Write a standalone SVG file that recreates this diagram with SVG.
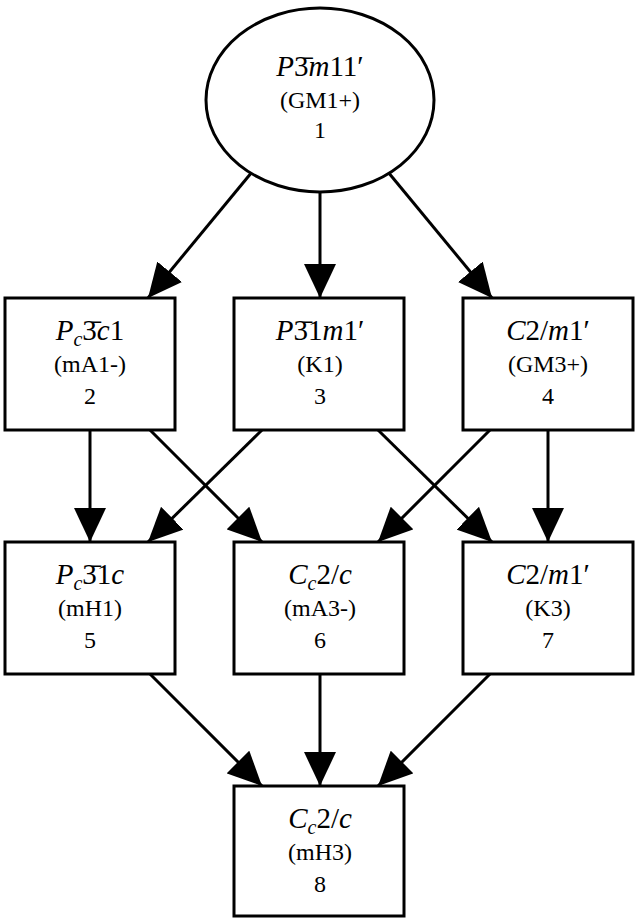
<svg xmlns="http://www.w3.org/2000/svg" width="640" height="918" viewBox="0 0 640 918">
<style>
.n{fill:#fff;stroke:#000;stroke-width:3}
.m{font-family:"Liberation Serif",serif;font-style:italic;font-size:29px;text-anchor:middle}
.m .u{font-style:normal}
.t{font-family:"Liberation Serif",serif;font-size:24px;text-anchor:middle}
.c line{stroke:#000;stroke-width:3;marker-end:url(#a)}
</style>
<defs><marker id="a" markerUnits="userSpaceOnUse" markerWidth="36" markerHeight="32" refX="34" refY="16" orient="auto"><path d="M0,0L34,16L0,32z"/></marker></defs>
<rect width="640" height="918" fill="#fff"/>
<g class="c">
<line x1="252" y1="172" x2="148" y2="298"/>
<line x1="320" y1="192" x2="320" y2="298"/>
<line x1="388" y1="172" x2="492" y2="298"/>
<line x1="90" y1="430" x2="90" y2="542"/>
<line x1="150" y1="430" x2="262" y2="542"/>
<line x1="262" y1="430" x2="148" y2="542"/>
<line x1="378" y1="430" x2="492" y2="542"/>
<line x1="490" y1="430" x2="378" y2="542"/>
<line x1="548" y1="430" x2="548" y2="542"/>
<line x1="150" y1="674" x2="262" y2="786"/>
<line x1="320" y1="674" x2="320" y2="786"/>
<line x1="490" y1="674" x2="378" y2="786"/>
</g>
<g id="n1"><ellipse class="n" cx="320" cy="100" rx="114" ry="92"/><text class="m" x="320" y="76">P<tspan class="u">3̄</tspan>m<tspan class="u">11′</tspan></text><text class="t" x="320" y="108">(GM1+)</text><text class="t" x="320" y="138">1</text></g>
<g id="n2"><rect class="n" x="5" y="298" width="170" height="132"/><text class="m" x="90" y="340">P<tspan font-size="20" dy="6">c</tspan><tspan class="u" dy="-6">3̄</tspan>c<tspan class="u">1</tspan></text><text class="t" x="90" y="372">(mA1-)</text><text class="t" x="90" y="404">2</text></g>
<g id="n3"><rect class="n" x="234" y="298" width="170" height="132"/><text class="m" x="320" y="340">P<tspan class="u">3̄1</tspan>m<tspan class="u">1′</tspan></text><text class="t" x="320" y="372">(K1)</text><text class="t" x="320" y="404">3</text></g>
<g id="n4"><rect class="n" x="463" y="298" width="170" height="132"/><text class="m" x="548" y="340">C<tspan class="u">2/</tspan>m<tspan class="u">1′</tspan></text><text class="t" x="548" y="372">(GM3+)</text><text class="t" x="548" y="404">4</text></g>
<g id="n5"><rect class="n" x="5" y="542" width="170" height="132"/><text class="m" x="90" y="584">P<tspan font-size="20" dy="6">c</tspan><tspan class="u" dy="-6">3̄1</tspan>c</text><text class="t" x="90" y="616">(mH1)</text><text class="t" x="90" y="648">5</text></g>
<g id="n6"><rect class="n" x="234" y="542" width="170" height="132"/><text class="m" x="320" y="584">C<tspan font-size="20" dy="6">c</tspan><tspan class="u" dy="-6">2/</tspan>c</text><text class="t" x="320" y="616">(mA3-)</text><text class="t" x="320" y="648">6</text></g>
<g id="n7"><rect class="n" x="463" y="542" width="170" height="132"/><text class="m" x="548" y="584">C<tspan class="u">2/</tspan>m<tspan class="u">1′</tspan></text><text class="t" x="548" y="616">(K3)</text><text class="t" x="548" y="648">7</text></g>
<g id="n8"><rect class="n" x="234" y="786" width="170" height="130"/><text class="m" x="320" y="828">C<tspan font-size="20" dy="6">c</tspan><tspan class="u" dy="-6">2/</tspan>c</text><text class="t" x="320" y="860">(mH3)</text><text class="t" x="320" y="892">8</text></g>
</svg>
